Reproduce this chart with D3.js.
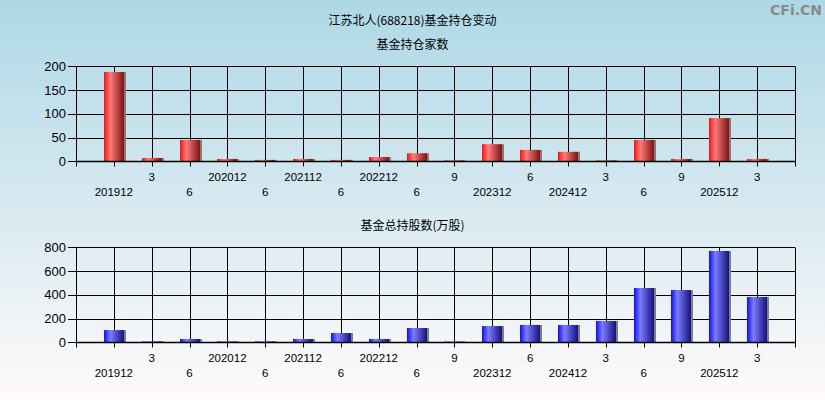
<!DOCTYPE html>
<html>
<head>
<meta charset="utf-8">
<script src="https://cdn.jsdelivr.net/npm/d3@7"></script>
<style>
  html, body { margin: 0; padding: 0; }
  svg { display: block; }
</style>
</head>
<body>
<svg id="chart" width="825" height="400"></svg>
<script>
const categories = ["201912","3","6","202012","6","202112","6","202212","6","9","202312","6","202412","3","6","9","202512","3"];
const fundCounts = [188, 7, 45, 5, 3, 5, 3, 9, 17, 2, 36, 24, 20, 2, 45, 5, 91, 5];
const fundShares = [103, 8, 28, 8, 8, 28, 78, 28, 120, 7, 137, 146, 146, 180, 457, 440, 769, 382];
const countTicks = [0, 50, 100, 150, 200];
const shareTicks = [0, 200, 400, 600, 800];
const mainTitle = "江苏北人(688218)基金持仓变动";
const topTitle = "基金持仓家数";
const bottomTitle = "基金总持股数(万股)";

const W = 825, H = 400;
const svg = d3.select("#chart");
const defs = svg.append("defs");

const bg = defs.append("linearGradient").attr("id", "bg").attr("x1", 0).attr("y1", 0).attr("x2", 0).attr("y2", 1);
bg.append("stop").attr("offset", "0%").attr("stop-color", "#add8e6");
bg.append("stop").attr("offset", "100%").attr("stop-color", "#fffafa");
svg.append("rect").attr("width", W).attr("height", H).attr("fill", "url(#bg)");

function barGrad(id, c0, c1, c2) {
  const g = defs.append("linearGradient").attr("id", id).attr("x1", 0).attr("y1", 0).attr("x2", 1).attr("y2", 0);
  g.append("stop").attr("offset", "0%").attr("stop-color", c0);
  g.append("stop").attr("offset", "32%").attr("stop-color", c1);
  g.append("stop").attr("offset", "100%").attr("stop-color", c2);
}
barGrad("red", "#ff0c0c", "#ff7c7c", "#7c1212");
barGrad("blue", "#0c0cff", "#7c7cff", "#12127c");

const numFont = "'Liberation Sans', Arial, sans-serif";
const cjkFont = "'Noto Sans CJK SC', 'Liberation Sans', sans-serif";

svg.append("text").attr("x", W / 2).attr("y", 19).attr("text-anchor", "middle")
  .attr("dominant-baseline", "central").attr("font-family", cjkFont).attr("font-size", 12)
  .attr("fill", "#000").text(mainTitle);

svg.append("text").attr("x", 822).attr("y", 10).attr("text-anchor", "end")
  .attr("dominant-baseline", "central").attr("font-family", "'DejaVu Sans', sans-serif")
  .attr("font-weight", "bold").attr("font-size", 14).attr("fill", "#8a8a8a").text("CFi.CN");

const left = 76, right = 795;
const domainKeys = ["_s", ...categories.map((c, i) => i + ":" + c), "_e"];
const x = d3.scalePoint().domain(domainKeys).range([left, right]).padding(0);
const keyOf = i => i + ":" + categories[i];

function panel(opts) {
  const { top, bottom, values, ticks, grad, title, titleY } = opts;
  const y = d3.scaleLinear().domain([ticks[0], ticks[ticks.length - 1]]).range([bottom, top]);
  const g = svg.append("g");

  svg.append("text").attr("x", W / 2).attr("y", titleY).attr("text-anchor", "middle")
    .attr("dominant-baseline", "central").attr("font-family", cjkFont).attr("font-size", 12)
    .attr("fill", "#000").text(title);

  g.selectAll("line.hg").data(ticks).join("line")
    .attr("x1", left).attr("x2", right)
    .attr("y1", d => Math.round(y(d)) + 0.5).attr("y2", d => Math.round(y(d)) + 0.5)
    .attr("stroke", "#000").attr("stroke-width", 1);
  g.selectAll("line.vg").data(domainKeys).join("line")
    .attr("x1", d => Math.round(x(d)) + 0.5).attr("x2", d => Math.round(x(d)) + 0.5)
    .attr("y1", Math.round(top) + 0.5).attr("y2", Math.round(bottom) + 0.5)
    .attr("stroke", "#000").attr("stroke-width", 1);

  const bw = 21;
  const bars = g.append("g");
  bars.selectAll("rect.shadow").data(values).join("rect")
    .attr("x", (d, i) => Math.round(x(keyOf(i))) - 10 + bw - 1)
    .attr("y", d => y(d)).attr("width", 2)
    .attr("height", d => Math.max(0, y(0) - y(d)))
    .attr("fill", "#7f7f7f");
  bars.selectAll("rect.bar").data(values).join("rect")
    .attr("x", (d, i) => Math.round(x(keyOf(i))) - 10)
    .attr("y", d => y(d)).attr("width", bw - 1)
    .attr("height", d => Math.max(0, y(0) - y(d)))
    .attr("fill", `url(#${grad})`);

  g.append("line").attr("x1", left).attr("x2", right)
    .attr("y1", Math.round(bottom) + 0.5).attr("y2", Math.round(bottom) + 0.5)
    .attr("stroke", "#000").attr("stroke-width", 1.5);
  g.selectAll("line.xt").data(domainKeys).join("line")
    .attr("x1", d => Math.round(x(d)) + 0.5).attr("x2", d => Math.round(x(d)) + 0.5)
    .attr("y1", Math.round(bottom)).attr("y2", Math.round(bottom) + 5.5)
    .attr("stroke", "#000").attr("stroke-width", 1);
  g.selectAll("line.yt").data(ticks).join("line")
    .attr("x1", left - 8).attr("x2", left)
    .attr("y1", d => Math.round(y(d)) + 0.5).attr("y2", d => Math.round(y(d)) + 0.5)
    .attr("stroke", "#000").attr("stroke-width", 1);
  g.selectAll("text.yl").data(ticks).join("text")
    .attr("x", left - 10).attr("y", d => y(d))
    .attr("text-anchor", "end").attr("dominant-baseline", "central")
    .attr("font-family", numFont).attr("font-size", 13).attr("fill", "#000")
    .text(d => d);
  g.selectAll("text.xl").data(categories).join("text")
    .attr("x", (d, i) => x(keyOf(i)))
    .attr("y", (d, i) => bottom + (i % 2 === 0 ? 31 : 15.5))
    .attr("text-anchor", "middle").attr("dominant-baseline", "central")
    .attr("font-family", numFont).attr("font-size", 11.5).attr("fill", "#000")
    .text(d => d);
}

panel({ top: 66.3, bottom: 161.3, values: fundCounts, ticks: countTicks, grad: "red", title: topTitle, titleY: 43 });
panel({ top: 247.3, bottom: 342.3, values: fundShares, ticks: shareTicks, grad: "blue", title: bottomTitle, titleY: 224 });
</script>
</body>
</html>
